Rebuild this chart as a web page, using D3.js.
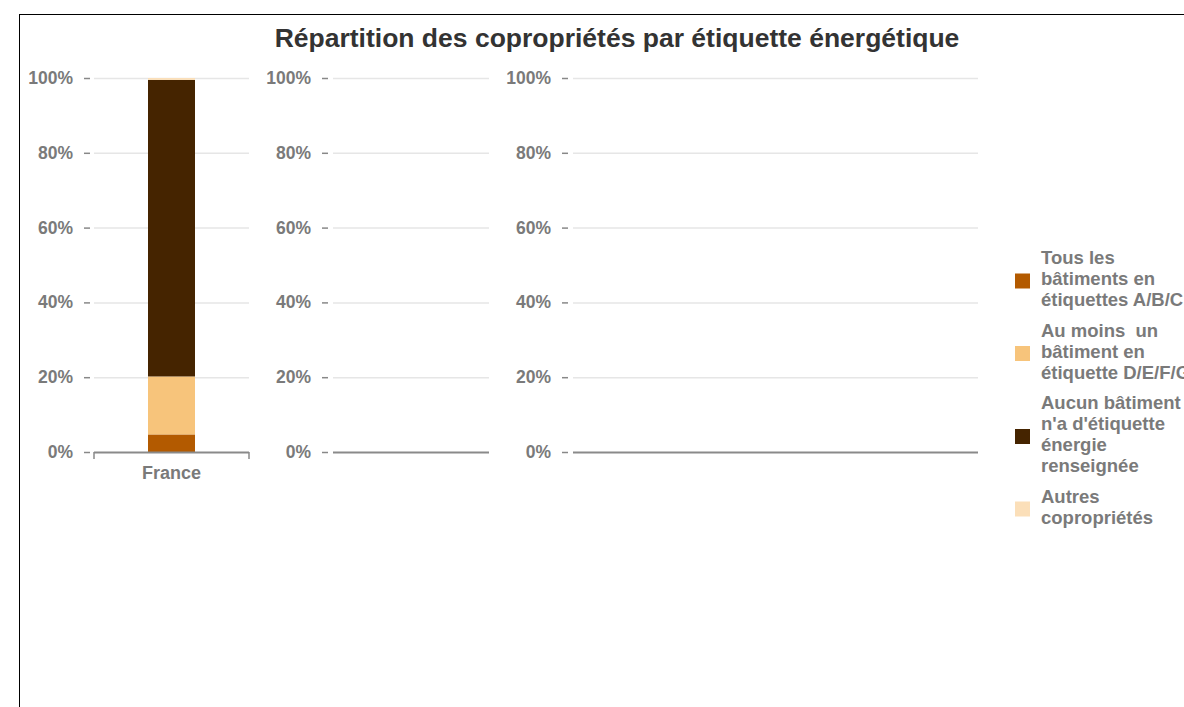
<!DOCTYPE html>
<html>
<head>
<meta charset="utf-8">
<script src="https://cdn.jsdelivr.net/npm/d3@7"></script>
<style>
  body { margin: 0; background: #fff; }
  svg { display: block; font-family: 'Liberation Sans', Arial, sans-serif; }
</style>
</head>
<body>
<svg id="chart" width="1184" height="707"></svg>
<script>
const title = 'Répartition des copropriétés par étiquette énergétique';

// panels: only the first one holds data
const panel1Categories = ['France'];
const panel2Categories = [];
const panel3Categories = [];

const seriesNames = [
  'Tous les bâtiments en étiquettes A/B/C',
  'Au moins  un bâtiment en étiquette D/E/F/G',
  'Aucun bâtiment n\'a d\'étiquette énergie renseignée',
  'Autres copropriétés',
];
const seriesColors = ['#b35a00', '#f7c47b', '#452400', '#fbdfb9'];
// percentage values for France, bottom to top
const franceValues = [4.7, 15.5, 79.3, 0.5];

const legendLines = [
  ['Tous les', 'bâtiments en', 'étiquettes A/B/C'],
  ['Au moins  un', 'bâtiment en', 'étiquette D/E/F/G'],
  ['Aucun bâtiment', 'n\'a d\'étiquette', 'énergie', 'renseignée'],
  ['Autres', 'copropriétés'],
];

const yTicks = [0, 20, 40, 60, 80, 100];

const svg = d3.select('#chart');

// frame
svg.append('rect')
    .attr('x', 19.5).attr('y', 14.5)
    .attr('width', 1300).attr('height', 900)
    .style('fill', 'none').style('stroke', '#000').style('stroke-width', 1);

svg.append('text')
    .attr('x', 617).attr('y', 47)
    .attr('text-anchor', 'middle')
    .style('font-size', '26.5px').style('font-weight', 'bold').style('fill', '#333')
    .text(title);

const y = d3.scaleLinear().domain([0, 100]).range([452, 78]);

const panels = [
  {cats: panel1Categories, x0: 94, x1: 249, tickX: 90, values: [franceValues], endTicks: true},
  {cats: panel2Categories, x0: 333, x1: 489, tickX: 328, values: [], endTicks: false},
  {cats: panel3Categories, x0: 573, x1: 978, tickX: 568, values: [], endTicks: false},
];

panels.forEach((p)=>{
  const g = svg.append('g');

  // gridlines
  g.selectAll('line.grid').data(yTicks.filter((t)=>t>0)).enter().append('line')
      .attr('x1', p.x0).attr('x2', p.x1)
      .attr('y1', (d)=>y(d)+0.5).attr('y2', (d)=>y(d)+0.5)
      .style('stroke', '#e6e6e6').style('stroke-width', 1.5);

  // y axis ticks + labels
  g.selectAll('line.tick').data(yTicks).enter().append('line')
      .attr('x1', p.tickX-6).attr('x2', p.tickX)
      .attr('y1', (d)=>y(d)+0.5).attr('y2', (d)=>y(d)+0.5)
      .style('stroke', '#888').style('stroke-width', 1.5);

  g.selectAll('text.ylab').data(yTicks).enter().append('text')
      .attr('x', p.tickX-17).attr('y', (d)=>y(d)+6)
      .attr('text-anchor', 'end')
      .style('font-size', '17.5px').style('font-weight', 'bold').style('fill', '#7a7a7a')
      .text((d)=>d+'%');

  const x = d3.scaleBand().domain(p.cats).range([p.x0, p.x1])
      .paddingInner(0).paddingOuter(1.149);

  // stacked bars
  p.cats.forEach((c, ci)=>{
    const vals = p.values[ci];
    let acc = 0;
    vals.forEach((v, si)=>{
      g.append('rect')
          .attr('x', x(c)).attr('width', x.bandwidth())
          .attr('y', y(acc+v)).attr('height', y(acc)-y(acc+v))
          .style('fill', seriesColors[si]);
      acc += v;
    });
    g.append('text')
        .attr('x', x(c)+x.bandwidth()/2).attr('y', 479)
        .attr('text-anchor', 'middle')
        .style('font-size', '18px').style('font-weight', 'bold').style('fill', '#7a7a7a')
        .text(c);
  });

  // baseline
  g.append('line')
      .attr('x1', p.x0).attr('x2', p.x1)
      .attr('y1', 452.5).attr('y2', 452.5)
      .style('stroke', '#8a8a8a').style('stroke-width', 2);

  if (p.endTicks) {
    [p.x0, p.x1].forEach((ex)=>{
      g.append('line')
          .attr('x1', ex).attr('x2', ex)
          .attr('y1', 452).attr('y2', 459)
          .style('stroke', '#8a8a8a').style('stroke-width', 1.5);
    });
  }
});

// legend
const legend = svg.append('g');
let ly = 264;
legendLines.forEach((lines, i)=>{
  const top = ly - 14;
  const bottom = ly + (lines.length-1)*21 + 5;
  const mid = (top+bottom)/2;
  legend.append('rect')
      .attr('x', 1015).attr('y', mid-7).attr('width', 15).attr('height', 15)
      .style('fill', seriesColors[i]);
  legend.append('text')
      .attr('x', 1041).attr('y', ly)
      .style('font-size', '18.5px').style('font-weight', 'bold').style('fill', '#7a7a7a')
      .selectAll('tspan').data(lines).enter().append('tspan')
      .attr('x', 1041).attr('dy', (d, k)=>k===0?0:21)
      .style('white-space', 'pre')
      .text((d)=>d);
  ly += lines.length*21 + 9.5;
});
</script>
</body>
</html>
